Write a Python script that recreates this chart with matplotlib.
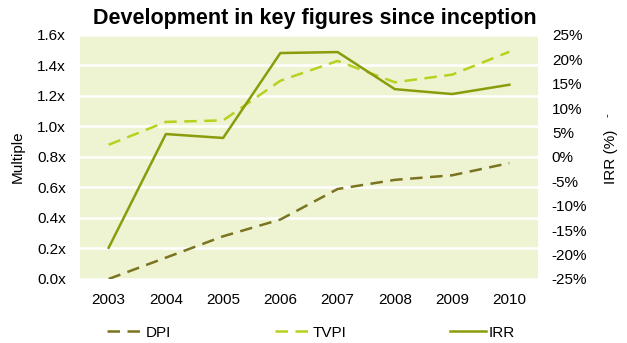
import matplotlib
matplotlib.use("Agg")
import matplotlib.pyplot as plt
from matplotlib.ticker import FuncFormatter, MultipleLocator

plt.rcParams['font.family'] = ['Liberation Sans', 'DejaVu Sans']

years = ['2003', '2004', '2005', '2006', '2007', '2008', '2009', '2010']
dpi = [0.0, 0.14, 0.28, 0.39, 0.59, 0.65, 0.68, 0.76]
tvpi = [0.88, 1.03, 1.04, 1.30, 1.43, 1.29, 1.34, 1.49]
irr = [-18.6, 4.7, 3.9, 21.3, 21.5, 13.9, 12.9, 14.8]

c_dpi = '#7a7420'
c_tvpi = '#b9d01e'
c_irr = '#8a9c0c'
bg = '#eef4d2'

fig = plt.figure(figsize=(6.27, 3.43), dpi=100)
ax = fig.add_axes([0.1276, 0.1866, 0.7304, 0.7114])
ax.set_facecolor(bg)
x = list(range(len(years)))

l1, = ax.plot(x, dpi, color=c_dpi, lw=1.8, dashes=(5, 3), label='DPI')
l2, = ax.plot(x, tvpi, color=c_tvpi, lw=1.8, dashes=(5, 3), label='TVPI')
ax.set_ylim(0, 1.6)
ax.set_xlim(-0.5, len(years) - 0.5)
ax.yaxis.set_major_locator(MultipleLocator(0.2))
ax.yaxis.set_major_formatter(FuncFormatter(lambda v, p: f'{v:.1f}x'))
ax.grid(axis='y', color='white', lw=1.8)
ax.set_axisbelow(True)
ax.set_xticks(x)
ax.set_xticklabels(years)
ax.tick_params(axis='both', length=0, labelsize=11, pad=10)
for s in ax.spines.values():
    s.set_visible(False)
ax.set_ylabel('Multiple', fontsize=11, labelpad=9)

ax2 = ax.twinx()
l3, = ax2.plot(x, irr, color=c_irr, lw=1.8, label='IRR')
ax2.set_ylim(-25, 25)
ax2.yaxis.set_major_locator(MultipleLocator(5))
ax2.yaxis.set_major_formatter(FuncFormatter(lambda v, p: f'{v:.0f}%'))
ax2.tick_params(axis='y', length=0, labelsize=11, pad=10)
for s in ax2.spines.values():
    s.set_visible(False)
ax2.set_ylabel('IRR (%)', fontsize=11, labelpad=12)
fig.text(0.969, 0.665, '-', fontsize=8, ha='center', va='center', rotation=90)

fig.text(0.502, 0.945, 'Development in key figures since inception', fontsize=15.5,
         fontweight='bold', ha='center', va='center')

fig.legend(handles=[l1, l2, l3], loc='lower center', ncol=3,
           bbox_to_anchor=(0.496, -0.03), frameon=False, fontsize=11,
           columnspacing=6.8, handlelength=2.3, handletextpad=0.2)

fig.savefig('out.png', dpi=100)
